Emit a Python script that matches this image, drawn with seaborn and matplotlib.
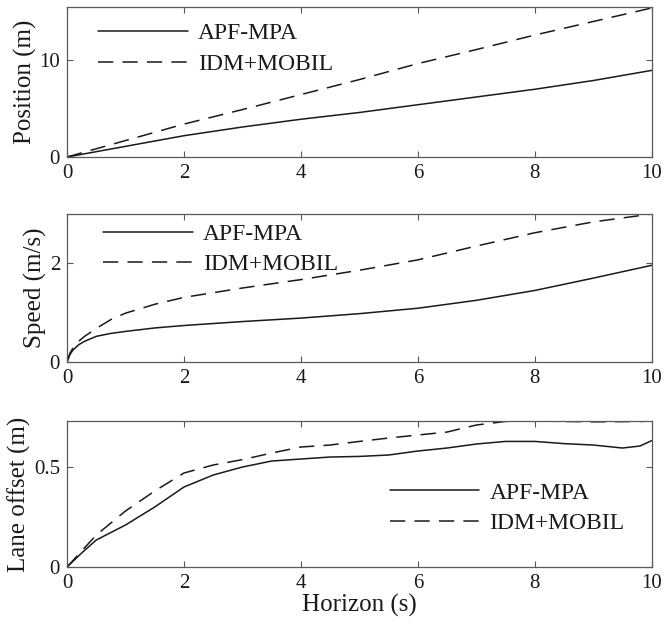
import numpy as np
import pandas as pd
import seaborn as sns
import matplotlib
matplotlib.use("Agg")
import matplotlib.pyplot as plt

sns.set_theme(style="ticks")
plt.rcParams['font.family'] = ['Liberation Serif', 'DejaVu Serif']
plt.rcParams['mathtext.fontset'] = 'stix'

# ---- data ----
t_pos = [0, 1, 2, 3, 4, 5, 6, 7, 8, 9, 10]
pos_apf = [0, 1.1, 2.2, 3.1, 3.9, 4.6, 5.4, 6.2, 7.0, 7.9, 8.95]
pos_idm = [0, 1.7, 3.4, 4.9, 6.45, 8.0, 9.65, 11.1, 12.6, 14.0, 15.4]

t_spd = [0, 0.05, 0.1, 0.2, 0.3, 0.5, 0.75, 1, 1.5, 2, 3, 4, 5, 6, 7, 8, 9, 10]
spd_apf = [0, 0.15, 0.24, 0.35, 0.42, 0.52, 0.58, 0.62, 0.69, 0.74, 0.82, 0.89,
           0.98, 1.09, 1.25, 1.45, 1.70, 1.96]
spd_idm = [0, 0.18, 0.28, 0.42, 0.52, 0.68, 0.86, 0.99, 1.17, 1.31, 1.50, 1.67,
           1.86, 2.07, 2.35, 2.62, 2.84, 3.0]

t_lane = [0, 0.25, 0.5, 1, 1.5, 2, 2.5, 3, 3.5, 4, 4.5, 5, 5.5, 6, 6.5, 7, 7.5,
          8, 8.5, 9, 9.5, 9.8, 10]
lane_apf = [0, 0.07, 0.135, 0.21, 0.30, 0.40, 0.46, 0.50, 0.53, 0.54, 0.55, 0.553,
            0.56, 0.58, 0.595, 0.615, 0.628, 0.628, 0.617, 0.61, 0.595, 0.605, 0.632]
lane_idm = [0, 0.08, 0.16, 0.28, 0.38, 0.47, 0.51, 0.537, 0.57, 0.60, 0.61, 0.628,
            0.645, 0.66, 0.675, 0.71, 0.728, 0.73, 0.728, 0.726, 0.727, 0.728, 0.73]

labels = ["APF-MPA", "IDM+MOBIL"]
ylabels = ["Position (m)", "Speed (m/s)", "Lane offset (m)"]
xlabel = "Horizon (s)"
xticks = [0, 2, 4, 6, 8, 10]
yticks = [[0, 10], [0, 2], [0, 0.5]]
yticklabels = [["0", "10"], ["0", "2"], ["0", "0.5"]]
ylims = [(0, 15.5), (0, 3.0), (0, 0.73)]

fig = plt.figure(figsize=(6.65, 6.3), dpi=100)
rects = [
    [0.1008, 0.7508, 0.8792, 0.2381],
    [0.1008, 0.4254, 0.8792, 0.2349],
    [0.1008, 0.1000, 0.8792, 0.2317],
]
series = [(t_pos, pos_apf, pos_idm), (t_spd, spd_apf, spd_idm), (t_lane, lane_apf, lane_idm)]
legend_anchors = [(0.053, 0.894), (0.0615, 0.937), (0.552, 0.581)]

spine_col = "0.35"
for i, (rect, (t, a, b)) in enumerate(zip(rects, series)):
    ax = fig.add_axes(rect)
    sns.lineplot(x=t, y=a, ax=ax, color="0.1", linewidth=1.1, label=labels[0])
    sns.lineplot(x=t, y=b, ax=ax, color="0.1", linewidth=1.1, label=labels[1])
    ax.lines[1].set_dashes((10, 6))
    ax.set_xlim(0, 10)
    ax.set_ylim(*ylims[i])
    ax.set_xticks(xticks)
    ax.set_xticklabels([str(v) for v in xticks])
    ax.set_yticks(yticks[i])
    ax.set_yticklabels(yticklabels[i])
    ax.tick_params(direction="in", top=True, right=True, length=4, width=0.8,
                   color=spine_col, labelsize=15, labelcolor="0.1", pad=5)
    for s in ax.spines.values():
        s.set_visible(True)
        s.set_color(spine_col)
        s.set_linewidth(0.9)
    ax.set_ylabel(ylabels[i], fontsize=18, color="0.1", labelpad=2)
    ax.set_xlabel("")
    leg = ax.legend(loc="upper left", bbox_to_anchor=legend_anchors[i], frameon=False,
                    fontsize=17, handlelength=3.8, handletextpad=0.42,
                    labelspacing=0.38, borderaxespad=0.0, borderpad=0.0)
    for txt in leg.get_texts():
        txt.set_color("0.1")
    if i == 2:
        ax.set_xlabel(xlabel, fontsize=18, color="0.1", labelpad=1)

fig.savefig("out.png", dpi=100, facecolor="white")
